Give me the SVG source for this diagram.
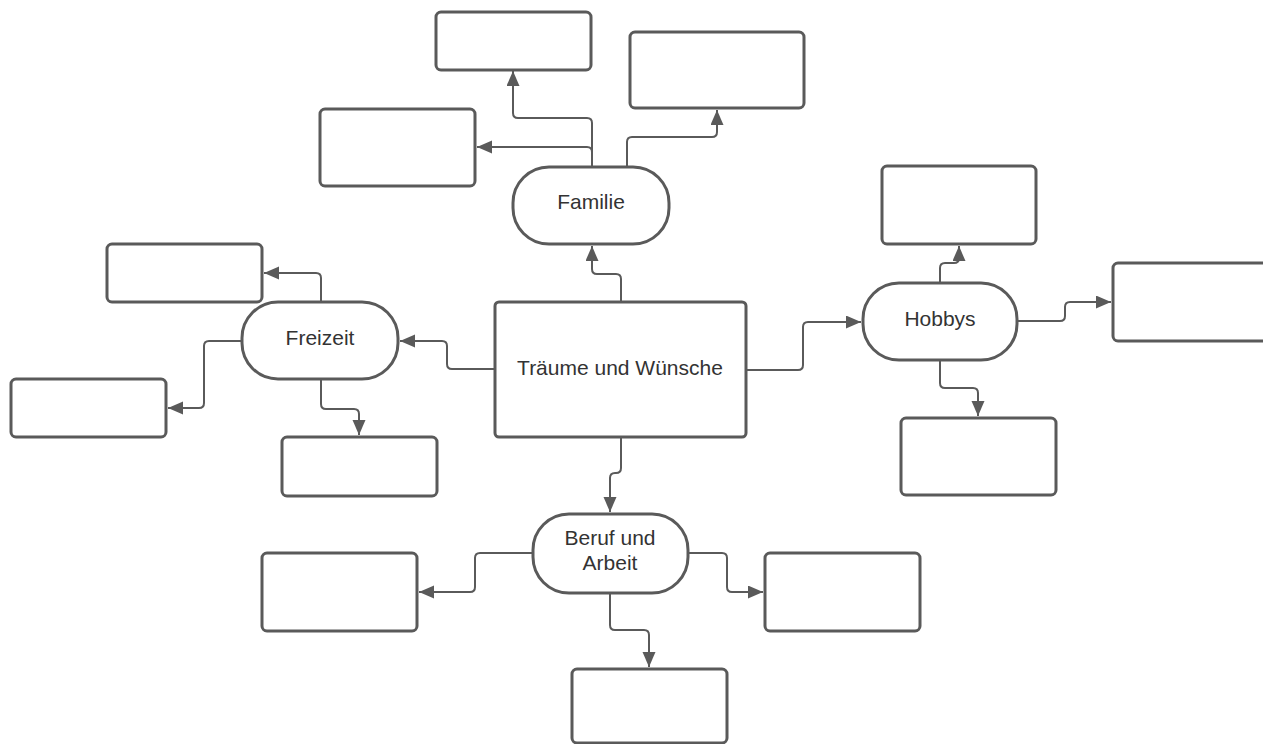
<svg xmlns="http://www.w3.org/2000/svg" width="1263" height="744" viewBox="0 0 1263 744">
<style>
.box{fill:#fff;stroke:#5a5a5a;stroke-width:3}
.con{fill:none;stroke:#5a5a5a;stroke-width:2;marker-end:url(#arr)}
.lbl{font-family:"Liberation Sans",Arial,sans-serif;font-size:21px;fill:#333;text-anchor:middle}
</style>
<defs>
<marker id="arr" markerUnits="userSpaceOnUse" markerWidth="16" markerHeight="14" refX="15" refY="6.5" orient="auto" viewBox="0 0 16 14">
<path d="M0,0 L15,6.5 L0,13 z" fill="#5a5a5a"/>
</marker>
</defs>
<rect width="1263" height="744" fill="#fff"/>
<g id="connectors">
<path class="con" d="M592,167 V123 Q592,118 587,118 H518 Q513,118 513,113 V71"/>
<path class="con" d="M592,167 V152 Q592,147 587,147 H477"/>
<path class="con" d="M627,167 V142 Q627,137 632,137 H712 Q717,137 717,132 V110"/>
<path class="con" d="M621,302 V279 Q621,274 616,274 H597 Q592,274 592,269 V246"/>
<path class="con" d="M495,369 H452 Q447,369 447,364 V346 Q447,341 442,341 H400"/>
<path class="con" d="M321,302 V278 Q321,273 316,273 H264"/>
<path class="con" d="M242,341 H209 Q204,341 204,346 V403 Q204,408 199,408 H168"/>
<path class="con" d="M321,379 V404 Q321,409 326,409 H354 Q359,409 359,414 V435"/>
<path class="con" d="M746,370 H798 Q803,370 803,365 V327 Q803,322 808,322 H861"/>
<path class="con" d="M940,283 V268 Q940,263 945,263 H954 Q959,263 959,258 V246"/>
<path class="con" d="M1017,321 H1060 Q1065,321 1065,316 V307 Q1065,302 1070,302 H1111"/>
<path class="con" d="M940,360 V383 Q940,388 945,388 H973 Q978,388 978,393 V416"/>
<path class="con" d="M621,437 V468 Q621,473 616,473 H615 Q610,473 610,478 V512"/>
<path class="con" d="M533,553 H480 Q475,553 475,558 V587 Q475,592 470,592 H419"/>
<path class="con" d="M688,553 H722 Q727,553 727,558 V587 Q727,592 732,592 H763"/>
<path class="con" d="M610,593 V625 Q610,630 615,630 H644 Q649,630 649,635 V667"/>
</g>
<g id="central"><rect class="box" x="495" y="302" width="251" height="135" rx="4"/><text class="lbl" x="620" y="375">Träume und Wünsche</text></g>
<g id="familie"><rect class="box" x="513" y="167" width="156" height="77" rx="36"/><text class="lbl" x="591" y="209">Familie</text></g>
<g id="fam-top"><rect class="box" x="436" y="12" width="155" height="58" rx="5"/></g>
<g id="fam-right"><rect class="box" x="630" y="32" width="174" height="76" rx="5"/></g>
<g id="fam-left"><rect class="box" x="320" y="109" width="155" height="77" rx="5"/></g>
<g id="freizeit"><rect class="box" x="242" y="302" width="156" height="77" rx="36"/><text class="lbl" x="320" y="345">Freizeit</text></g>
<g id="frei-tl"><rect class="box" x="107" y="244" width="155" height="58" rx="5"/></g>
<g id="frei-l"><rect class="box" x="11" y="379" width="155" height="58" rx="5"/></g>
<g id="frei-b"><rect class="box" x="282" y="437" width="155" height="59" rx="5"/></g>
<g id="hobbys"><rect class="box" x="863" y="283" width="154" height="77" rx="36"/><text class="lbl" x="940" y="326">Hobbys</text></g>
<g id="hob-top"><rect class="box" x="882" y="166" width="154" height="78" rx="5"/></g>
<g id="hob-right"><rect class="box" x="1113" y="263" width="160" height="78" rx="5"/></g>
<g id="hob-b"><rect class="box" x="901" y="418" width="155" height="77" rx="5"/></g>
<g id="beruf"><rect class="box" x="533" y="514" width="155" height="79" rx="36"/><text class="lbl" x="610" y="545">Beruf und</text><text class="lbl" x="610" y="570">Arbeit</text></g>
<g id="ber-l"><rect class="box" x="262" y="553" width="155" height="78" rx="5"/></g>
<g id="ber-r"><rect class="box" x="765" y="553" width="155" height="78" rx="5"/></g>
<g id="ber-b"><rect class="box" x="572" y="669" width="155" height="74" rx="5"/></g>
</svg>
